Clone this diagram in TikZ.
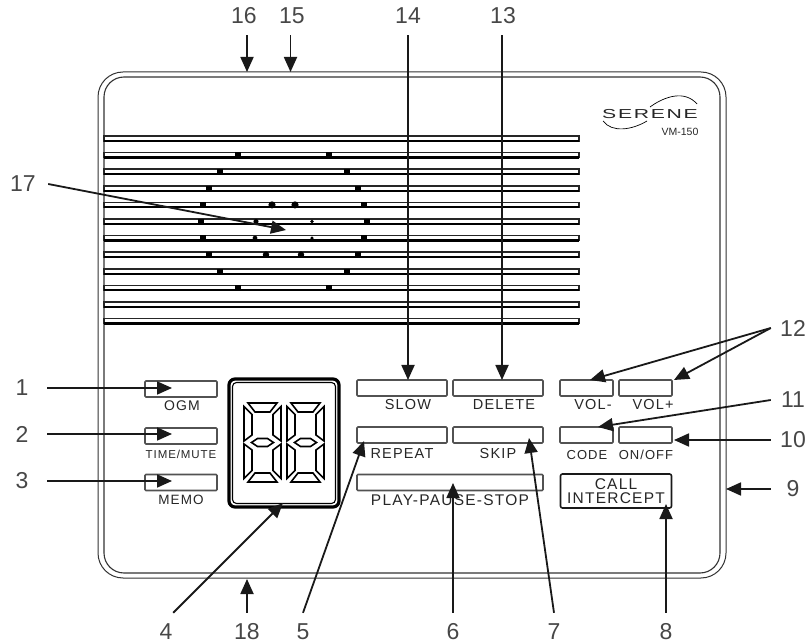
\documentclass[tikz,border=0pt]{standalone}
\usepackage{fontspec}
\setmainfont{Liberation Sans}
\newfontfamily\btnfont[LetterSpace=8]{Liberation Sans}
\usetikzlibrary{arrows.meta}
\definecolor{shell}{gray}{0.2}
\definecolor{keyline}{gray}{0.32}
\tikzstyle{numh} = [inner sep=0pt, minimum width=50pt, text=black!72, font=\fontsize{23}{23}\selectfont]
\tikzstyle{numv} = [inner sep=0pt, minimum height=38pt, text=black!72, font=\fontsize{23}{23}\selectfont]
\tikzstyle{callout} = [line width=1.8pt, draw=black!90, -{Triangle[length=15pt,width=13pt]}]
\tikzstyle{btn} = [draw=keyline, fill=white, line width=1.6pt, rounded corners=1pt, inner sep=0pt, minimum height=16pt]
\tikzstyle{btnlabel} = [inner sep=0pt, text=black!85]
\tikzstyle{post} = [fill=black, minimum size=5.5pt, inner sep=0pt]
\newcommand{\txt}[2]{\fontsize{#1}{14}\btnfont #2}
\tikzset{
  digit/.pic={
    \foreach \sy in {1,-1} {
      \begin{scope}[yscale=\sy]
      \draw[line width=1.6pt] (-14.5,39.5) -- (14.5,39.5) -- (7.5,30.5) -- (-7.5,30.5) -- cycle;
      \foreach \sx in {1,-1} {
        \draw[line width=1.6pt, xscale=\sx] (18.5,1.5) -- (10.5,7.5) -- (10.5,28) -- (18.5,36) -- cycle;
      }
      \end{scope}
    }
    \draw[line width=1.6pt] (-11,0) -- (-5,-4) -- (5,-4) -- (11,0) -- (5,4) -- (-5,4) -- cycle;
  }
}

\begin{document}
\begin{tikzpicture}[x=1pt,y=-1pt]
\useasboundingbox (0,0) rectangle (809,644);
% housing
\draw[shell, line width=1pt, rounded corners=25pt] (98,72) rectangle (726,578);
\draw[shell, line width=1.1pt, rounded corners=20pt] (104,77) rectangle (720,573);
% speaker slots
\foreach \i in {0,...,11} {
  \draw[black!85, line width=1.5pt, fill=white] (104,136+16.6*\i) rectangle (579,141+16.6*\i);
  \draw[black, line width=2.2pt] (104,141+16.6*\i) -- (579,141+16.6*\i);
}
\foreach \i/\a/\b in {1/238/329,2/220/347,3/209/358,4/203/364,5/201/367,6/203/364,7/209/358,8/220/347,9/238/329} {
  \node[post] (pa\i) at (\a,138.5+16.6*\i) {};
  \node[post] (pb\i) at (\b,138.5+16.6*\i) {};
}
\foreach \p/\a/\s in {4/272/3.6,4/295/3.6,5/256/2.6,5/312/1.8,6/255/2.4,6/312/1.8,7/266/3.2,7/301/3.2} {
  \fill (\a,138.5+16.6*\p) circle (\s pt);
}
% logo
\node[inner sep=0pt, text=black!85] (logo) at (650,114.5) {\scalebox{1.63}[1]{\fontsize{13}{13}\btnfont SERENE}};
\node[inner sep=0pt, text=black!85] (model) at (680,132) {\fontsize{10.5}{10.5}\selectfont VM-150};
\draw[line width=0.7pt] (603,121) .. controls (612,133) and (632,130) .. (647,121);
\draw[line width=0.7pt] (650,107) .. controls (665,96) and (685,90) .. (697,104);
% left keys
\node[btn, minimum width=72pt] (ogm) at (181,389) {};
\node[btn, minimum width=72pt] (time) at (181,436) {};
\node[btn, minimum width=72pt] (memo) at (181,482.5) {};
\node[btnlabel] (ogmtxt) at (182,406) {\txt{14}{OGM}};
\node[btnlabel] (timetxt) at (181,454) {\txt{11.5}{TIME/MUTE}};
\node[btnlabel] (memotxt) at (181,500) {\txt{13.5}{MEMO}};
% display
\node[draw, line width=3.2pt, rounded corners=6pt, minimum width=110pt, minimum height=128pt] (disp) at (284,443) {};
\draw[line width=1.1pt, rounded corners=4pt] (232.5,382.5) rectangle (335.5,503.5);
\pic at (262.5,442.5) {digit};
\pic at (305.5,442.5) {digit};
% centre keys
\node[btn, minimum width=90pt] (slow) at (402,388) {};
\node[btn, minimum width=90pt] (delete) at (498,388) {};
\node[btn, minimum width=90pt] (repeat) at (402,435) {};
\node[btn, minimum width=90pt] (skip) at (498,435) {};
\node[btn, minimum width=186pt] (play) at (450,482.5) {};
\node[btnlabel] (slowtxt) at (408,405) {\txt{14.5}{SLOW}};
\node[btnlabel] (deletetxt) at (504,405) {\txt{14.5}{DELETE}};
\node[btnlabel] (repeattxt) at (402,454) {\txt{14.5}{REPEAT}};
\node[btnlabel] (skiptxt) at (498,454) {\txt{14.5}{SKIP}};
\node[btnlabel] (playtxt) at (450,500) {\txt{15.5}{PLAY-PAUSE-STOP}};
% right keys
\node[btn, minimum width=53pt] (volm) at (586.5,388) {};
\node[btn, minimum width=53pt] (volp) at (645.5,388) {};
\node[btn, minimum width=53pt] (code) at (586.5,435) {};
\node[btn, minimum width=53pt] (onoff) at (645.5,435) {};
\node[btnlabel] (volmtxt) at (593,405) {\txt{14.5}{VOL-}};
\node[btnlabel] (volptxt) at (653,405) {\txt{14.5}{VOL+}};
\node[btnlabel] (codetxt) at (587,455) {\txt{13}{CODE}};
\node[btnlabel] (onofftxt) at (646,455) {\txt{13}{ON/OFF}};
\node[draw=black!90, fill=white, line width=1.6pt, rounded corners=2pt, inner sep=0pt, minimum width=111pt, minimum height=34pt, align=center, text=black!85, font=\fontsize{15.5}{14}\btnfont] (intercept) at (616,491) {CALL\\INTERCEPT};
% numbers
\node[numh] (n1) at (22,388) {1};
\node[numh] (n2) at (22,434) {2};
\node[numh] (n3) at (22,481) {3};
\node[numv, minimum width=14pt] (n4) at (166,632) {4};
\node[numv] (n5) at (303,632) {5};
\node[numv] (n6) at (453,632) {6};
\node[numv] (n7) at (554,632) {7};
\node[numv] (n8) at (666,632) {8};
\node[numh, minimum width=44pt] (n9) at (793,489) {9};
\node[numh, minimum width=44pt] (n10) at (793,440) {10};
\node[numh, minimum width=44pt] (n11) at (793,400) {11};
\node[numh, minimum width=44pt] (n12) at (793,328) {12};
\node[numv] (n13) at (503,16) {13};
\node[numv] (n14) at (408,16) {14};
\node[numv] (n15) at (292,16) {15};
\node[numv] (n16) at (244,16) {16};
\node[numh] (n17) at (23,184) {17};
\node[numv] (n18) at (247,632) {18};
% arrow ends
\coordinate (t1) at (172,388);
\coordinate (t2) at (172,434);
\coordinate (t3) at (172,481);
\coordinate (t4) at (283,503);
\coordinate (t5) at (364,441);
\coordinate (t6) at (453,483);
\coordinate (t7) at (529,438);
\coordinate (t8) at (666,504);
\coordinate (t9) at (726,489);
\coordinate (t10) at (674,440);
\coordinate (t11) at (598,427);
\coordinate (t12a) at (590,380);
\coordinate (t12b) at (674,380);
\coordinate (t13) at (502,380);
\coordinate (t14) at (408,380);
\coordinate (t15) at (290.5,72);
\coordinate (t16) at (247,72);
\coordinate (t17) at (286,230);
\coordinate (t18) at (247,579);
\draw[callout] (n1.east) -- (t1);
\draw[callout] (n2.east) -- (t2);
\draw[callout] (n3.east) -- (t3);
\draw[callout] (n4.north east) -- (t4);
\draw[callout] (n5.north) -- (t5);
\draw[callout] (n6.north) -- (t6);
\draw[callout] (n7.north) -- (t7);
\draw[callout] (n8.north) -- (t8);
\draw[callout] (n9.west) -- (t9);
\draw[callout] (n10.west) -- (t10);
\draw[callout] (n11.west) -- (t11);
\draw[callout] (n12.west) -- (t12a);
\draw[callout] (n12.west) -- (t12b);
\draw[callout] (n13.south -| t13) -- (t13);
\draw[callout] (n14.south -| t14) -- (t14);
\draw[callout] (n15.south -| t15) -- (t15);
\draw[callout] (n16.south -| t16) -- (t16);
\draw[callout] (n17.east) -- (t17);
\draw[callout] (n18.north) -- (t18);
\end{tikzpicture}
\end{document}
